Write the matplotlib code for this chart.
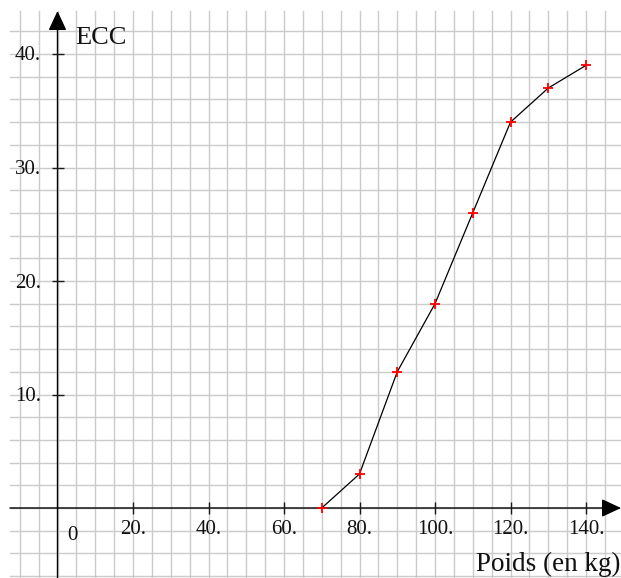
import matplotlib
matplotlib.use("Agg")
import matplotlib.pyplot as plt

# courbe des effectifs cumules croissants
poids = [70, 80, 90, 100, 110, 120, 130, 140]
ecc = [0, 3, 12, 18, 26, 34, 37, 39]

xticks = [20, 40, 60, 80, 100, 120, 140]
xtick_labels = ["20.", "40.", "60.", "80.", "100.", "120.", "140."]
yticks = [10, 20, 30, 40]
ytick_labels = ["10.", "20.", "30.", "40."]

plt.rcParams['font.family'] = ['Liberation Serif', 'DejaVu Serif']

W, H = 621, 578
fig = plt.figure(figsize=(W / 100, H / 100), dpi=100)
ax = fig.add_axes([0, 0, 1, 1])
ax.axis('off')

# pixel -> data (origin at px (57.5, 508))
sx, sy = 3.775, 11.35
ox, oy = 57.5, 508
def dx(px):
    return (px - ox) / sx
def dy(py):
    return (oy - py) / sy

xmin, xmax = dx(0), dx(W)
ymin, ymax = dy(H), dy(0)
ax.set_xlim(xmin, xmax)
ax.set_ylim(ymin, ymax)

grid_col = '#cbcbcb'
gx0, gy1 = dx(10), dy(11)
for x in range(-10, 150, 5):
    ax.plot([x, x], [ymin, gy1], color=grid_col, lw=1.0, zorder=1)
for y in range(-6, 44, 2):
    ax.plot([gx0, xmax], [y, y], color=grid_col, lw=1.0, zorder=1)

axis_col = '#1a1a1a'
arrow = dict(arrowstyle='-|>,head_length=0.6,head_width=0.28', color='black',
             lw=1.0, mutation_scale=20, shrinkA=0, shrinkB=0)
ax.annotate('', xy=(dx(621), 0), xytext=(dx(10), 0), arrowprops=arrow, zorder=3)
ax.annotate('', xy=(0, dy(11)), xytext=(0, ymin), arrowprops=arrow, zorder=3)

ax.plot(xticks, [0] * len(xticks), '|', ms=8.5, mew=1.0, color=axis_col, zorder=3)
ax.plot([0] * len(yticks), yticks, '_', ms=8.5, mew=1.0, color=axis_col, zorder=3)

for x, lab in zip(xticks, xtick_labels):
    ax.text(x, dy(530), lab, ha='center', va='center', fontsize=15, color='#111111')
for y, lab in zip(yticks, ytick_labels):
    ax.text(dx(41), y + dy(56) - dy(54), lab, ha='right', va='center', fontsize=15,
            color='#111111')
ax.text(dx(72.5), dy(536), "0", ha='center', va='center', fontsize=15, color='#111111')

ax.text(dx(75), dy(38), "ECC", ha='left', va='center', fontsize=19, color='#111111')
ax.text(dx(620), dy(564), "Poids (en kg)", ha='right', va='center', fontsize=19.5,
        color='#111111')

ax.plot(poids, ecc, color='black', lw=0.9, zorder=4)
ax.plot(poids, ecc, '+', color='red', ms=7, mew=1.3, zorder=5)

fig.savefig('out.png', dpi=100)
